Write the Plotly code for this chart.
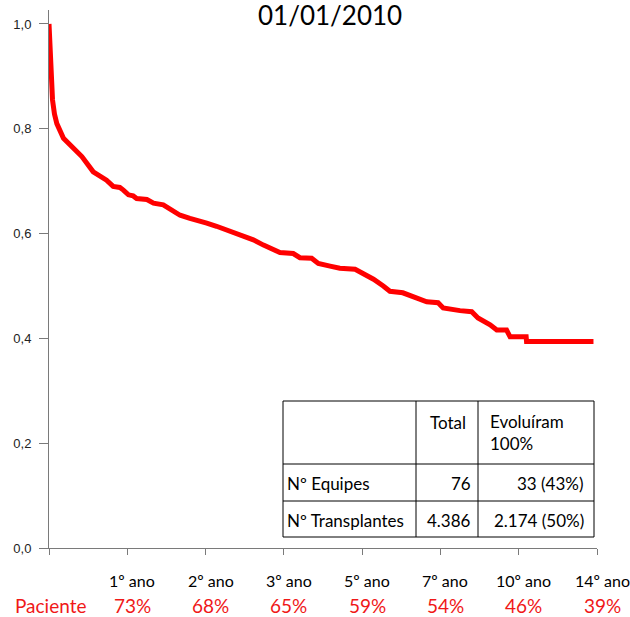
import plotly.graph_objects as go

# ---- data ----
years = [0.0, 0.02, 0.04, 0.09, 0.14, 0.20, 0.37, 0.58, 0.84, 1.13, 1.30, 1.47, 1.64, 1.81, 1.90,
         2.03, 2.15, 2.24, 2.50, 2.67, 2.92, 3.13, 3.35, 3.60, 3.86, 4.03, 4.28, 4.54, 4.80,
         5.05, 5.22, 5.48, 5.73, 5.90, 6.24, 6.41, 6.71, 6.88, 7.18, 7.43, 7.82, 8.03, 8.29,
         8.54, 8.71, 9.04, 9.39, 9.65, 9.94, 10.07, 10.50, 10.80, 10.96, 11.27, 11.44, 11.69,
         11.78, 12.19, 12.20, 13.91]
survival = [1.000, 0.960, 0.918, 0.855, 0.828, 0.810, 0.782, 0.766, 0.747, 0.718, 0.709, 0.702, 0.690,
            0.688, 0.683, 0.674, 0.672, 0.667, 0.665, 0.658, 0.655, 0.645, 0.635, 0.629, 0.625,
            0.620, 0.614, 0.607, 0.601, 0.593, 0.588, 0.578, 0.569, 0.564, 0.562, 0.554, 0.553,
            0.543, 0.538, 0.534, 0.532, 0.524, 0.513, 0.500, 0.490, 0.487, 0.477, 0.470, 0.468,
            0.458, 0.453, 0.451, 0.439, 0.426, 0.416, 0.416, 0.403, 0.403, 0.394, 0.394]

x_tick_vals = [0, 2, 4, 6, 8, 10, 12, 14]
period_labels = ["1º ano", "2º ano", "3º ano", "5º ano", "7º ano", "10º ano", "14º ano"]
period_positions = [2, 4, 6, 8, 10, 12, 14]
patient_pct = ["73%", "68%", "65%", "59%", "54%", "46%", "39%"]
row_label = "Paciente"
y_tick_vals = [0.0, 0.2, 0.4, 0.6, 0.8, 1.0]
title_text = "01/01/2010"

table_header = ["", "Total", "Evoluíram<br>100%"]
table_rows = [["Nº Equipes", "76", "33 (43%)"],
              ["Nº Transplantes", "4.386", "2.174 (50%)"]]

# ---- figure ----
W, H = 630, 617
ML, MR, MT, MB = 49, 33, 10, 69
PW, PH = W - ML - MR, H - MT - MB

def px(xp):
    return (xp - ML) / PW

def py(yp):
    return (MT + PH - yp) / PH

fig = go.Figure()
fig.add_trace(go.Scatter(x=years, y=survival, mode="lines",
                         line=dict(color="#FF0000", width=5), hoverinfo="skip"))

axis_col = "#7a7a7a"
fig.update_layout(
    width=W, height=H,
    margin=dict(l=ML, r=MR, t=MT, b=MB),
    paper_bgcolor="white", plot_bgcolor="white",
    showlegend=False,
    separators=",.",
    xaxis=dict(range=[0, 14], showgrid=False, zeroline=False, showline=True,
               linecolor=axis_col, linewidth=1, ticks="outside", ticklen=6,
               tickcolor=axis_col, tickvals=x_tick_vals, showticklabels=False),
    yaxis=dict(range=[0, 1.0267], showgrid=False, zeroline=False, showline=True,
               linecolor=axis_col, linewidth=1, ticks="outside", ticklen=9,
               tickcolor=axis_col, tickvals=y_tick_vals, tickformat=".1f",
               ticklabelstandoff=5,
               tickfont=dict(family="Liberation Sans, Arial", size=13, color="#222")),
)

ann = []
# title at the very top
ann.append(dict(text=title_text, xref="paper", yref="paper", x=px(330), y=py(15),
                xanchor="center", yanchor="middle", showarrow=False,
                font=dict(family="Lato", size=26, color="#000")))
# period labels and percentages
for pos, lab, pct in zip(period_positions, period_labels, patient_pct):
    ann.append(dict(text=lab, xref="x", yref="paper", x=pos, y=py(580), xshift=5,
                    xanchor="center", yanchor="middle", showarrow=False,
                    font=dict(family="Lato", size=16, color="#000")))
    ann.append(dict(text=pct, xref="x", yref="paper", x=pos, y=py(605), xshift=5,
                    xanchor="center", yanchor="middle", showarrow=False,
                    font=dict(family="Lato", size=19, color="#F01818")))
ann.append(dict(text=row_label, xref="paper", yref="paper", x=px(50), y=py(605),
                xanchor="center", yanchor="middle", showarrow=False,
                font=dict(family="Lato", size=19, color="#F01818")))

# table
tx0, tx1, tc1, tc2 = 283, 594, 416, 478
ty0, tr1, tr2, ty1 = 401, 464, 501, 537
shapes = [dict(type="rect", xref="paper", yref="paper", x0=px(tx0), x1=px(tx1),
               y0=py(ty1), y1=py(ty0), line=dict(color="#000", width=1),
               fillcolor="white", layer="above")]
for xv in (tc1, tc2):
    shapes.append(dict(type="line", xref="paper", yref="paper", x0=px(xv), x1=px(xv),
                       y0=py(ty1), y1=py(ty0), line=dict(color="#000", width=1), layer="above"))
for yv in (tr1, tr2):
    shapes.append(dict(type="line", xref="paper", yref="paper", x0=px(tx0), x1=px(tx1),
                       y0=py(yv), y1=py(yv), line=dict(color="#000", width=1), layer="above"))

tfont = dict(family="Lato", size=17, color="#000")
# header
ann.append(dict(text=table_header[1], xref="paper", yref="paper", x=px(tc1 + 12), y=py(422),
                xanchor="left", yanchor="middle", showarrow=False, font=tfont))
ann.append(dict(text=table_header[2], xref="paper", yref="paper", x=px(tc2 + 10), y=py(432),
                xanchor="left", yanchor="middle", showarrow=False, font=tfont, align="left"))
row_y = [483, 520]
for (lab, tot, evo), yv in zip(table_rows, row_y):
    ann.append(dict(text=lab, xref="paper", yref="paper", x=px(tx0 + 2), y=py(yv),
                    xanchor="left", yanchor="middle", showarrow=False, font=tfont))
    ann.append(dict(text=tot, xref="paper", yref="paper", x=px(tc2 - 5), y=py(yv),
                    xanchor="right", yanchor="middle", showarrow=False, font=tfont))
    ann.append(dict(text=evo, xref="paper", yref="paper", x=px(tx1 - 8), y=py(yv),
                    xanchor="right", yanchor="middle", showarrow=False, font=tfont))

fig.update_layout(annotations=ann, shapes=shapes)
fig.write_html("out.html", config={"displayModeBar": False},
               post_script="document.body.style.margin='0';document.body.style.padding='0';")
